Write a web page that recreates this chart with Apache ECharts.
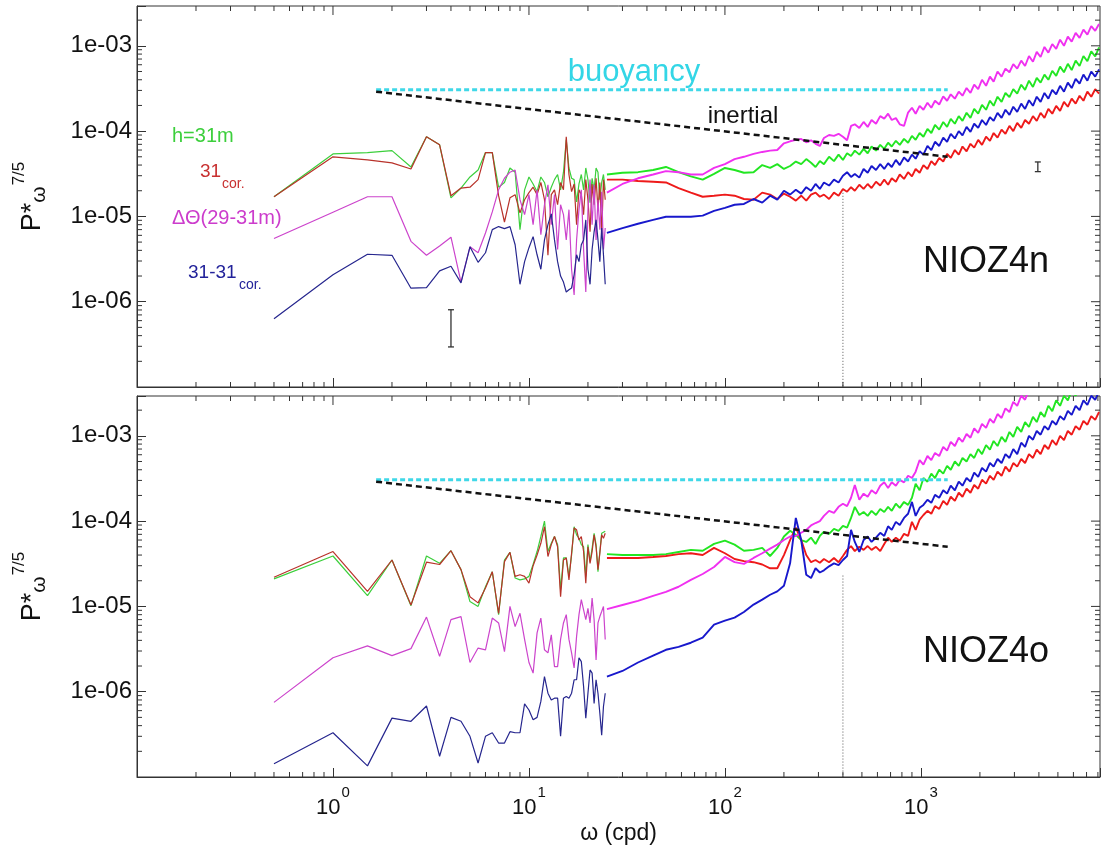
<!DOCTYPE html>
<html><head><meta charset="utf-8">
<script src="https://cdn.jsdelivr.net/npm/echarts@6/dist/echarts.min.js"></script>
<style>html,body{margin:0;padding:0;background:#fff}#c{width:1102px;height:854px}</style>
</head><body><div id="c"></div>
<script>
// ---------- axis ranges & tick values ----------
const X_MIN = 0.1, X_MAX = 8200;
const Y_MIN = 1e-7, Y_MAX = 2.93e-3;
const MAJOR_X = [1, 10, 100, 1000];
const MAJOR_Y = [1e-6, 1e-5, 1e-4, 1e-3];
const MINOR_X = [0.2,0.3,0.4,0.5,0.6,0.7,0.8,0.9, 2,3,4,5,6,7,8,9, 20,30,40,50,60,70,80,90,
  200,300,400,500,600,700,800,900, 2000,3000,4000,5000,6000,7000,8000];
const MINOR_Y = [2e-7,3e-7,4e-7,5e-7,6e-7,7e-7,8e-7,9e-7, 2e-6,3e-6,4e-6,5e-6,6e-6,7e-6,8e-6,9e-6,
  2e-5,3e-5,4e-5,5e-5,6e-5,7e-5,8e-5,9e-5, 2e-4,3e-4,4e-4,5e-4,6e-4,7e-4,8e-4,9e-4, 2e-3];

// ---------- frequencies (cpd) ----------
const LOW_FREQ = [0.5,1,1.5,2,2.5,3,3.5,4,4.5,5,5.5,6,6.5,7,7.5,8,8.5,9,9.5,10,10.5,11,11.5,12,12.5,
  13,13.5,14,14.5,15,15.5,16,16.5,17,17.5,18,18.5,19,19.5,20,20.5,21,21.5,22,22.5,23,23.5,24,24.5];
const HIGH_FREQ = [25,30,36,43,50,58,67,77,88,100, 112,125,140,155,170,185,200,215,230,245,
  260,275,290,305,320,340,360,380,400,420, 440,460,485,510,535,560,590,620,650,680,
  710,745,780,820,860,900,940,985,1030,1080, 1130,1180,1240,1300,1360,1420,1490,1560,1630,1710,
  1790,1870,1960,2050,2150,2250,2350,2460,2580,2700, 2830,2960,3100,3250,3400,3560,3730,3900,4080,4270,
  4470,4680,4900,5130,5370,5620,5880,6160,6450,6750, 7070,7400,7750,8110];

// ---------- NIOZ4n (top panel) ----------
const TOP_H31_LOW = [1.7e-5,5.4e-5,5.6e-5,5.9e-5,3.8e-5,8.6e-5,6.9e-5,1.65e-5,2.15e-5,2.9e-5,
  3.5e-5,5.6e-5,5.6e-5,2.2e-5,2.5e-5,3.7e-5,3.3e-5,7.0e-6,2.05e-5,2.9e-5,
  2.4e-5,1.95e-5,2.9e-5,2.5e-5,1.7e-5,2.2e-5,2.7e-5,3.1e-5,2.05e-5,3.3e-5,
  7.9e-5,3.7e-5,2.8e-5,2.7e-5,1.48e-5,2.4e-5,3.1e-5,2.05e-5,3.7e-5,2.7e-5,
  1.45e-5,2.8e-5,2.05e-5,3.7e-5,3.3e-5,1.57e-5,2.5e-5,3.1e-5,2.05e-5];
const TOP_COR_LOW = [1.7e-5,5.0e-5,4.6e-5,4.25e-5,3.6e-5,8.6e-5,6.9e-5,1.75e-5,2.15e-5,2.2e-5,
  2.7e-5,5.6e-5,5.6e-5,1.75e-5,8.6e-6,1.65e-5,1.8e-5,1.1e-5,1.57e-5,1.9e-5,
  2.2e-5,1.8e-5,2.5e-5,1.57e-5,3.5e-6,1.8e-5,2.05e-5,1.37e-5,2.5e-5,2.05e-5,
  8.6e-5,3.1e-5,1.95e-5,2.4e-5,8.0e-6,2.05e-5,1.8e-5,1.05e-5,2.7e-5,1.57e-5,
  6.6e-6,2.4e-5,1.37e-5,2.8e-5,1.2e-5,2.5e-5,6.1e-6,2.7e-5,1.57e-5];
const TOP_DT_LOW = [5.5e-6,1.12e-5,1.7e-5,1.7e-5,5.1e-6,3.5e-6,4.5e-6,5.7e-6,1.7e-6,4.4e-6,
  3.75e-6,6.4e-6,1.13e-5,2.05e-5,2.8e-5,3.3e-5,3.5e-5,1.57e-5,1.05e-5,1.8e-5,
  8.0e-6,2.05e-5,6.1e-6,1.37e-5,2.35e-5,8.0e-6,1.8e-5,4.1e-6,1.37e-5,1.05e-5,
  5.3e-6,1.2e-5,2.4e-6,1.2e-6,5.3e-6,1.2e-5,2.05e-5,4.1e-6,1.3e-6,1.2e-5,
  2.7e-5,8.0e-6,2.35e-5,5.3e-6,1.57e-5,7.0e-6,1.95e-5,4.1e-6,7.3e-6];
const TOP_DIFF_LOW = [6.3e-7,2.07e-6,3.6e-6,3.5e-6,1.44e-6,1.46e-6,2.3e-6,2.6e-6,1.66e-6,4.4e-6,
  2.9e-6,3.75e-6,7.0e-6,7.6e-6,7.2e-6,7.6e-6,4.65e-6,1.6e-6,2.95e-6,4.3e-6,
  5.8e-6,3.55e-6,2.4e-6,5.3e-6,8.0e-6,1.07e-5,5.3e-6,2.95e-6,2.0e-6,1.7e-6,
  1.3e-6,1.38e-6,1.45e-6,2.07e-6,3.55e-6,2.95e-6,4.65e-6,5.3e-6,9.1e-6,2.4e-6,
  1.6e-6,4.1e-6,6.6e-6,9.1e-6,5.3e-6,2.95e-6,7.3e-6,3.55e-6,1.6e-6];
const TOP_H31_HIGH = [3.1e-5,3.25e-5,3.3e-5,3.5e-5,3.8e-5,3.3e-5,2.95e-5,2.7e-5,3.15e-5,3.7e-5,
  3.5e-5,3.25e-5,3.3e-5,4.0e-5,3.7e-5,4.1e-5,3.6e-5,3.9e-5,4.4e-5,4.1e-5,
  4.7e-5,4.25e-5,3.8e-5,4.45e-5,4.1e-5,5.0e-5,4.45e-5,5.3e-5,4.6e-5,5.5e-5,
  5.1e-5,5.9e-5,5.3e-5,6.2e-5,5.5e-5,6.6e-5,5.9e-5,6.9e-5,6.2e-5,7.3e-5,
  6.6e-5,7.7e-5,6.9e-5,8.1e-5,7.3e-5,8.8e-5,7.9e-5,9.5e-5,8.6e-5,1.06e-4,
  9.5e-5,1.18e-4,1.04e-4,1.28e-4,1.12e-4,1.39e-4,1.22e-4,1.5e-4,1.32e-4,1.64e-4,
  1.43e-4,1.82e-4,1.6e-4,2.03e-4,1.78e-4,2.27e-4,1.98e-4,2.53e-4,2.2e-4,2.8e-4,
  2.5e-4,3.1e-4,2.75e-4,3.5e-4,3.05e-4,3.9e-4,3.3e-4,4.2e-4,3.7e-4,4.6e-4,
  4.0e-4,5.1e-4,4.45e-4,5.7e-4,4.9e-4,6.15e-4,5.2e-4,6.7e-4,5.8e-4,7.6e-4,
  6.6e-4,8.6e-4,7.5e-4,9.6e-4];
const TOP_COR_HIGH = [2.7e-5,2.7e-5,2.6e-5,2.55e-5,2.5e-5,2.15e-5,1.9e-5,1.7e-5,1.75e-5,1.8e-5,
  1.75e-5,1.6e-5,1.57e-5,1.9e-5,1.8e-5,1.6e-5,1.85e-5,1.7e-5,1.53e-5,1.75e-5,
  1.53e-5,1.8e-5,1.9e-5,1.7e-5,1.8e-5,1.6e-5,1.9e-5,1.75e-5,2.1e-5,1.95e-5,
  2.2e-5,2.0e-5,2.35e-5,2.1e-5,2.4e-5,2.15e-5,2.55e-5,2.3e-5,2.7e-5,2.35e-5,
  2.8e-5,2.55e-5,3.1e-5,2.75e-5,3.3e-5,2.95e-5,3.6e-5,3.25e-5,4.0e-5,3.6e-5,
  4.45e-5,4.0e-5,4.85e-5,4.4e-5,5.4e-5,4.85e-5,6.0e-5,5.3e-5,6.6e-5,5.8e-5,
  7.1e-5,6.4e-5,7.9e-5,6.9e-5,8.6e-5,7.7e-5,9.5e-5,8.4e-5,1.04e-4,9.3e-5,
  1.15e-4,1.0e-4,1.25e-4,1.09e-4,1.35e-4,1.22e-4,1.5e-4,1.32e-4,1.64e-4,1.43e-4,
  1.82e-4,1.6e-4,1.98e-4,1.73e-4,2.2e-4,1.93e-4,2.4e-4,2.1e-4,2.6e-4,2.27e-4,
  2.9e-4,2.53e-4,3.1e-4,2.75e-4];
const TOP_DT_HIGH = [1.9e-5,2.4e-5,2.8e-5,3.1e-5,3.4e-5,3.3e-5,3.1e-5,3.1e-5,3.7e-5,4.1e-5,
  4.7e-5,5.0e-5,5.4e-5,5.7e-5,5.9e-5,6.0e-5,7.2e-5,7.6e-5,7.9e-5,8.1e-5,
  7.4e-5,7.8e-5,7.1e-5,6.7e-5,8.3e-5,9.0e-5,8.8e-5,9.3e-5,8.6e-5,7.8e-5,
  1.15e-4,1.2e-4,1.09e-4,1.28e-4,1.12e-4,1.35e-4,1.22e-4,1.5e-4,1.4e-4,1.6e-4,
  1.35e-4,1.42e-4,1.2e-4,1.15e-4,1.65e-4,1.88e-4,1.6e-4,1.98e-4,1.78e-4,2.15e-4,
  1.88e-4,2.27e-4,2.05e-4,2.55e-4,2.27e-4,2.7e-4,2.4e-4,2.9e-4,2.6e-4,3.2e-4,
  2.8e-4,3.5e-4,3.1e-4,4.0e-4,3.4e-4,4.35e-4,3.8e-4,5.0e-4,4.35e-4,5.4e-4,
  4.9e-4,6.1e-4,5.4e-4,6.7e-4,5.8e-4,7.6e-4,6.5e-4,8.5e-4,7.4e-4,9.7e-4,
  8.3e-4,1.05e-3,9.2e-4,1.18e-3,1.0e-3,1.28e-3,1.12e-3,1.42e-3,1.24e-3,1.55e-3,
  1.35e-3,1.7e-3,1.5e-3,1.8e-3];
const TOP_DIFF_HIGH = [6.4e-6,7.3e-6,8.2e-6,9.1e-6,9.9e-6,9.9e-6,9.9e-6,1.02e-5,1.16e-5,1.26e-5,
  1.37e-5,1.4e-5,1.6e-5,1.45e-5,1.75e-5,1.57e-5,2.0e-5,1.8e-5,2.05e-5,1.85e-5,
  2.2e-5,2.0e-5,2.4e-5,2.1e-5,2.5e-5,2.3e-5,2.7e-5,2.5e-5,3.0e-5,3.3e-5,
  2.9e-5,3.15e-5,2.85e-5,3.6e-5,3.25e-5,3.9e-5,3.5e-5,4.1e-5,3.6e-5,4.2e-5,
  3.8e-5,4.6e-5,4.0e-5,4.9e-5,4.4e-5,5.3e-5,4.75e-5,5.8e-5,5.3e-5,6.7e-5,
  6.0e-5,7.5e-5,6.7e-5,8.4e-5,7.5e-5,9.3e-5,8.2e-5,1.0e-4,8.9e-5,1.12e-4,
  9.8e-5,1.22e-4,1.09e-4,1.35e-4,1.18e-4,1.46e-4,1.32e-4,1.64e-4,1.43e-4,1.78e-4,
  1.55e-4,1.93e-4,1.68e-4,2.1e-4,1.82e-4,2.3e-4,1.98e-4,2.53e-4,2.2e-4,2.8e-4,
  2.4e-4,3.05e-4,2.7e-4,3.4e-4,2.9e-4,3.7e-4,3.2e-4,4.1e-4,3.6e-4,4.6e-4,
  3.9e-4,5.0e-4,4.35e-4,5.3e-4];

// ---------- NIOZ4o (bottom panel) ----------
const BOT_H31_LOW = [2.1e-5,3.9e-5,1.34e-5,3.5e-5,1.02e-5,3.9e-5,3.2e-5,4.5e-5,2.7e-5,1.14e-5,
  1.0e-5,1.7e-5,2.55e-5,8.0e-6,3.5e-5,4.3e-5,2.15e-5,2.05e-5,2.1e-5,2.25e-5,
  3.1e-5,4.4e-5,6.6e-5,1.0e-4,4.4e-5,5.5e-5,6.6e-5,5.3e-5,1.57e-5,3.7e-5,
  3.7e-5,2.25e-5,4.0e-5,8.6e-5,6.9e-5,6.3e-5,5.3e-5,5.0e-5,2.25e-5,5.3e-5,
  3.35e-5,4.8e-5,7.2e-5,5.3e-5,2.55e-5,4.4e-5,7.2e-5,6.9e-5,7.6e-5];
const BOT_COR_LOW = [2.2e-5,4.4e-5,1.5e-5,3.5e-5,1.04e-5,3.3e-5,3.1e-5,4.5e-5,2.7e-5,1.3e-5,
  1.1e-5,1.64e-5,2.55e-5,8.3e-6,3.35e-5,4.3e-5,2.25e-5,2.35e-5,2.25e-5,1.87e-5,
  3.0e-5,4.0e-5,5.5e-5,8.6e-5,3.85e-5,5.3e-5,6.6e-5,5.0e-5,1.3e-5,3.5e-5,
  3.7e-5,2.05e-5,4.2e-5,8.3e-5,7.9e-5,6.0e-5,6.6e-5,4.4e-5,1.87e-5,5.0e-5,
  3.2e-5,4.4e-5,6.9e-5,5.0e-5,2.7e-5,4.2e-5,6.9e-5,6.3e-5,7.2e-5];
const BOT_DT_LOW = [7.5e-7,2.5e-6,3.45e-6,2.65e-6,3.2e-6,7.5e-6,2.6e-6,7.0e-6,7.6e-6,2.2e-6,
  3.25e-6,3.1e-6,7.3e-6,6.4e-6,2.95e-6,1.0e-5,5.8e-6,8.3e-6,4.1e-6,2.2e-6,
  1.65e-6,4.9e-6,7.3e-6,3.1e-6,2.85e-6,4.65e-6,1.97e-6,1.97e-6,4.1e-6,6.4e-6,
  8.0e-6,4.1e-6,2.85e-6,1.9e-6,4.45e-6,8.0e-6,1.2e-5,9.1e-6,7.0e-6,9.5e-6,
  6.4e-6,1.25e-5,7.0e-6,2.35e-6,6.4e-6,7.6e-6,8.7e-6,1.0e-5,4.1e-6];
const BOT_DIFF_LOW = [1.43e-7,3.3e-7,1.35e-7,4.9e-7,4.5e-7,6.8e-7,1.75e-7,5.0e-7,4.5e-7,3.0e-7,
  1.46e-7,3.0e-7,3.3e-7,2.5e-7,2.5e-7,3.4e-7,3.3e-7,3.3e-7,7.2e-7,6.1e-7,
  4.7e-7,5.0e-7,7.7e-7,1.5e-6,9.6e-7,8.0e-7,8.4e-7,8.4e-7,3.0e-7,8.4e-7,
  8.8e-7,8.4e-7,9.6e-7,1.38e-6,1.38e-6,2.5e-6,2.25e-6,1.15e-6,4.9e-7,9.6e-7,
  1.8e-6,1.65e-6,7.3e-7,1.38e-6,9.6e-7,5.6e-7,3.1e-7,6.7e-7,9.6e-7];
const BOT_H31_HIGH = [4.1e-5,4.0e-5,4.0e-5,4.0e-5,4.1e-5,4.35e-5,4.6e-5,4.5e-5,5.4e-5,5.9e-5,
  5.3e-5,4.5e-5,4.6e-5,4.85e-5,3.9e-5,4.85e-5,6.6e-5,7.7e-5,6.9e-5,6.0e-5,
  5.7e-5,6.4e-5,5.4e-5,6.7e-5,7.5e-5,7.1e-5,8.1e-5,7.7e-5,8.8e-5,8.4e-5,
  1.09e-4,1.47e-4,1.18e-4,1.28e-4,1.15e-4,1.32e-4,1.18e-4,1.39e-4,1.28e-4,1.47e-4,
  1.32e-4,1.6e-4,1.43e-4,1.68e-4,1.55e-4,1.88e-4,2.75e-4,2.3e-4,3.2e-4,2.9e-4,
  3.6e-4,3.2e-4,4.0e-4,3.6e-4,4.45e-4,4.0e-4,5.0e-4,4.45e-4,5.5e-4,5.0e-4,
  6.1e-4,5.5e-4,7.0e-4,6.1e-4,7.8e-4,6.9e-4,8.7e-4,7.6e-4,9.7e-4,8.5e-4,
  1.11e-3,9.7e-4,1.27e-3,1.11e-3,1.45e-3,1.27e-3,1.67e-3,1.45e-3,1.9e-3,1.67e-3,
  2.25e-3,1.95e-3,2.6e-3,2.25e-3,2.95e-3,2.6e-3,3.4e-3,2.95e-3,3.85e-3,3.4e-3,
  4.4e-3,3.85e-3,5.0e-3,4.4e-3];
const BOT_COR_HIGH = [3.7e-5,3.7e-5,3.7e-5,3.8e-5,3.9e-5,4.1e-5,4.2e-5,4.0e-5,4.85e-5,4.2e-5,
  3.6e-5,3.4e-5,3.3e-5,3.1e-5,2.8e-5,2.8e-5,4.0e-5,6.0e-5,8.4e-5,6.0e-5,
  4.0e-5,3.3e-5,3.5e-5,3.25e-5,3.6e-5,3.3e-5,3.7e-5,3.3e-5,3.9e-5,4.6e-5,
  5.1e-5,4.45e-5,5.0e-5,4.6e-5,5.1e-5,4.6e-5,5.0e-5,4.45e-5,5.4e-5,6.4e-5,
  5.7e-5,6.4e-5,5.9e-5,7.1e-5,6.7e-5,9.8e-5,7.9e-5,1.04e-4,1.18e-4,1.32e-4,
  1.22e-4,1.5e-4,1.39e-4,1.73e-4,1.55e-4,1.93e-4,1.73e-4,2.15e-4,1.93e-4,2.4e-4,
  2.15e-4,2.65e-4,2.4e-4,3.05e-4,2.75e-4,3.4e-4,3.05e-4,3.8e-4,3.4e-4,4.35e-4,
  3.8e-4,4.8e-4,4.35e-4,5.35e-4,4.8e-4,6.1e-4,5.5e-4,6.9e-4,6.1e-4,7.8e-4,
  7.0e-4,8.9e-4,7.8e-4,1.0e-3,8.9e-4,1.14e-3,1.03e-3,1.3e-3,1.18e-3,1.5e-3,
  1.35e-3,1.7e-3,1.54e-3,1.9e-3];
const BOT_DT_HIGH = [9.3e-6,1.04e-5,1.16e-5,1.33e-5,1.48e-5,1.7e-5,2.05e-5,2.4e-5,2.9e-5,3.8e-5,
  3.3e-5,3.15e-5,3.7e-5,4.2e-5,4.75e-5,5.3e-5,6.0e-5,6.6e-5,6.7e-5,7.3e-5,
  7.9e-5,8.9e-5,9.5e-5,1.0e-4,1.15e-4,1.32e-4,1.25e-4,1.47e-4,1.6e-4,1.5e-4,
  1.88e-4,2.65e-4,1.78e-4,2.1e-4,1.93e-4,2.3e-4,2.1e-4,2.6e-4,2.85e-4,2.45e-4,
  2.85e-4,2.6e-4,3.05e-4,2.85e-4,3.4e-4,3.2e-4,3.8e-4,5.2e-4,4.6e-4,5.8e-4,
  5.2e-4,6.3e-4,5.8e-4,7.4e-4,6.7e-4,8.5e-4,7.6e-4,9.5e-4,8.5e-4,1.05e-3,
  9.5e-4,1.22e-3,1.08e-3,1.38e-3,1.24e-3,1.58e-3,1.42e-3,1.8e-3,1.62e-3,2.1e-3,
  1.9e-3,2.5e-3,2.25e-3,2.95e-3,2.65e-3,3.45e-3,3.1e-3,4.1e-3,3.65e-3,4.8e-3,
  4.3e-3,5.6e-3,5.0e-3,6.6e-3,5.9e-3,7.7e-3,6.9e-3,9.1e-3,8.1e-3,1.07e-2,
  9.6e-3,1.26e-2,1.13e-2,1.5e-2];
const BOT_DIFF_HIGH = [1.5e-6,1.75e-6,2.2e-6,2.65e-6,3.1e-6,3.35e-6,3.75e-6,4.3e-6,6.1e-6,6.8e-6,
  7.4e-6,8.6e-6,1.05e-5,1.2e-5,1.37e-5,1.5e-5,1.75e-5,3.2e-5,1.09e-4,6.0e-5,
  2.35e-5,2.15e-5,2.8e-5,2.5e-5,2.65e-5,2.95e-5,3.2e-5,3.05e-5,3.5e-5,3.9e-5,
  7.9e-5,5.7e-5,4.35e-5,6.0e-5,6.6e-5,5.7e-5,6.4e-5,7.3e-5,6.7e-5,8.7e-5,
  7.9e-5,9.8e-5,9.0e-5,1.09e-4,1.22e-4,1.68e-4,1.15e-4,1.43e-4,1.55e-4,1.78e-4,
  1.64e-4,2.03e-4,1.88e-4,2.3e-4,2.1e-4,2.6e-4,2.3e-4,2.9e-4,2.6e-4,3.2e-4,
  2.9e-4,3.7e-4,3.3e-4,4.2e-4,3.8e-4,4.8e-4,4.35e-4,5.35e-4,4.8e-4,6.1e-4,
  5.5e-4,7.0e-4,6.1e-4,8.3e-4,7.4e-4,1.0e-3,9.0e-4,1.14e-3,1.03e-3,1.3e-3,
  1.18e-3,1.5e-3,1.35e-3,1.7e-3,1.54e-3,1.96e-3,1.76e-3,2.25e-3,2.0e-3,2.6e-3,
  2.3e-3,2.95e-3,2.65e-3,3.3e-3];

// ---------- reference lines & error bars ----------
const BUOYANCY_X = [1.66, 1370], BUOYANCY_Y = [3.05e-4, 3.05e-4];
const INERTIAL_X = [1.66, 1370], INERTIAL_Y = [2.9e-4, 5.0e-5];
const CUTOFF_X = [400, 400];
const CUTOFF_TOP_Y = [2.05e-5, 1e-7];
const CUTOFF_BOT_Y = [2.3e-5, 1e-7];
const ERRBAR_TOP = [[4, 2.95e-7, 8.05e-7], [3950, 3.35e-5, 4.35e-5]];

// ---------- styling ----------
const FONT = '"Liberation Sans", Arial, sans-serif';
const COL = {
  h31: ['#3ccf3c', '#22e622'],
  cor: ['#b8322a', '#ee1a1a'],
  dt:  ['#cc44cc', '#f030f0'],
  diff:['#26268e', '#1818cc']
};
const AX = '#333';

function pairs(xs, ys) { return xs.map((x, i) => [x, ys[i]]); }

function line(gi, xs, ys, color, width, type, z) {
  return {
    type: 'line', xAxisIndex: gi, yAxisIndex: gi, data: pairs(xs, ys),
    showSymbol: false, symbol: 'none', silent: true, clip: true, z: z || 2,
    lineStyle: { color: color, width: width, type: type || 'solid' }
  };
}

function tickSeries(gi) {
  const data = [];
  MINOR_X.forEach(v => data.push([v, Y_MIN, 0]));
  MINOR_Y.forEach(v => data.push([X_MIN, v, 1]));
  MAJOR_X.forEach(v => data.push([v, Y_MIN, 2]));
  MAJOR_Y.forEach(v => data.push([X_MIN, v, 3]));
  return {
    type: 'custom', xAxisIndex: gi, yAxisIndex: gi, silent: true, z: 10,
    encode: { x: 0, y: 1 }, data: data,
    renderItem: function (params, api) {
      const cs = params.coordSys;
      const kind = api.value(2);
      const p = api.coord([api.value(0), api.value(1)]);
      const segs = [];
      if (kind === 0 || kind === 2) {
        const len = kind === 0 ? 5 : 9;
        if (kind === 0) segs.push([p[0], cs.y + cs.height, p[0], cs.y + cs.height - len]);
        segs.push([p[0], cs.y, p[0], cs.y + len]);
      } else {
        const len = kind === 1 ? 5 : 9;
        if (kind === 1) segs.push([cs.x, p[1], cs.x + len, p[1]]);
        segs.push([cs.x + cs.width, p[1], cs.x + cs.width - len, p[1]]);
      }
      return { type: 'group', children: segs.map(s => ({
        type: 'line', shape: { x1: s[0], y1: s[1], x2: s[2], y2: s[3] },
        style: { stroke: AX, lineWidth: 1 } })) };
    }
  };
}

function errSeries(gi, data) {
  return {
    type: 'custom', xAxisIndex: gi, yAxisIndex: gi, silent: true, z: 6,
    encode: { x: 0, y: [1, 2] }, data: data,
    renderItem: function (params, api) {
      const lo = api.coord([api.value(0), api.value(1)]);
      const hi = api.coord([api.value(0), api.value(2)]);
      const st = { stroke: '#333', lineWidth: 1.3 };
      return { type: 'group', children: [
        { type: 'line', shape: { x1: lo[0], y1: lo[1], x2: hi[0], y2: hi[1] }, style: st },
        { type: 'line', shape: { x1: lo[0] - 3, y1: lo[1], x2: lo[0] + 3, y2: lo[1] }, style: st },
        { type: 'line', shape: { x1: hi[0] - 3, y1: hi[1], x2: hi[0] + 3, y2: hi[1] }, style: st }
      ]};
    }
  };
}

function isPow(v) { const l = Math.log10(v); return Math.abs(l - Math.round(l)) < 1e-6; }

function xAxis(gi) {
  return {
    type: 'log', logBase: 10, gridIndex: gi, min: X_MIN, max: X_MAX,
    axisLine: { show: true, lineStyle: { color: AX, width: 1 } },
    axisTick: { show: true, inside: true, length: 9, lineStyle: { color: AX } },
    minorTick: { show: false }, splitLine: { show: false },
    axisLabel: {
      show: gi === 1, margin: 8, color: '#111', fontFamily: FONT,
      formatter: function (v) {
        if (!isPow(v) || Math.round(Math.log10(v)) < 0) return '';
        return '{b|10}{s|' + Math.round(Math.log10(v)) + '}';
      },
      rich: {
        b: { fontSize: 22, color: '#111', fontFamily: FONT },
        s: { fontSize: 15, color: '#111', fontFamily: FONT, padding: [0, 0, 30, 1] }
      }
    },
    name: gi === 1 ? 'ω (cpd)' : '', nameLocation: 'middle', nameGap: 45,
    nameTextStyle: { fontSize: 23, color: '#111', fontFamily: FONT }
  };
}

function yAxis(gi) {
  return {
    type: 'log', logBase: 10, gridIndex: gi, min: Y_MIN, max: Y_MAX,
    axisLine: { show: true, lineStyle: { color: AX, width: 1 } },
    axisTick: { show: true, inside: true, length: 9, lineStyle: { color: AX } },
    minorTick: { show: false }, splitLine: { show: false },
    axisLabel: {
      margin: 5, color: '#111', fontSize: 24, fontFamily: FONT,
      formatter: function (v) {
        if (!isPow(v)) return '';
        const e = Math.round(Math.log10(v));
        if (e <= -7 || e >= 0) return '';
        return '1e-' + String(-e).padStart(2, '0');
      }
    },
    name: '{p|P*}{w|ω}{s|7/5}', nameLocation: 'middle', nameRotate: 90, nameGap: 83,
    nameTextStyle: {
      color: '#111', fontFamily: FONT,
      rich: {
        p: { fontSize: 27, color: '#111', fontFamily: FONT },
        w: { fontSize: 21, color: '#111', fontFamily: FONT, padding: [13, 0, 0, 0] },
        s: { fontSize: 17, color: '#111', fontFamily: FONT, padding: [0, 0, 26, 1] }
      }
    }
  };
}

function panelSeries(gi, d, cutY) {
  const s = [];
  s.push(line(gi, BUOYANCY_X, BUOYANCY_Y, '#3fd8e8', 3, [5, 3], 3));
  s.push(line(gi, INERTIAL_X, INERTIAL_Y, '#111', 2.5, [6, 4], 4));
  s.push(line(gi, CUTOFF_X, cutY, '#555', 1, [1, 2], 1));
  s.push(line(gi, LOW_FREQ, d.h31L, COL.h31[0], 1.2));
  s.push(line(gi, LOW_FREQ, d.corL, COL.cor[0], 1.2));
  s.push(line(gi, LOW_FREQ, d.dtL, COL.dt[0], 1.2));
  s.push(line(gi, LOW_FREQ, d.diffL, COL.diff[0], 1.2));
  s.push(line(gi, HIGH_FREQ, d.h31H, COL.h31[1], 1.9));
  s.push(line(gi, HIGH_FREQ, d.corH, COL.cor[1], 1.9));
  s.push(line(gi, HIGH_FREQ, d.dtH, COL.dt[1], 1.9));
  s.push(line(gi, HIGH_FREQ, d.diffH, COL.diff[1], 1.9));
  s.push(tickSeries(gi));
  return s;
}

function txt(x, y, text, size, color, align) {
  const a = align || 'left';
  return { type: 'text', x: x, y: y, silent: true, z: 20,
    style: { text: text, fill: color, font: size + 'px ' + FONT,
      align: a, verticalAlign: 'middle', textAlign: a, textVerticalAlign: 'middle' } };
}

const series = []
  .concat(panelSeries(0, { h31L: TOP_H31_LOW, corL: TOP_COR_LOW, dtL: TOP_DT_LOW, diffL: TOP_DIFF_LOW,
    h31H: TOP_H31_HIGH, corH: TOP_COR_HIGH, dtH: TOP_DT_HIGH, diffH: TOP_DIFF_HIGH }, CUTOFF_TOP_Y))
  .concat(panelSeries(1, { h31L: BOT_H31_LOW, corL: BOT_COR_LOW, dtL: BOT_DT_LOW, diffL: BOT_DIFF_LOW,
    h31H: BOT_H31_HIGH, corH: BOT_COR_HIGH, dtH: BOT_DT_HIGH, diffH: BOT_DIFF_HIGH }, CUTOFF_BOT_Y));
series.push(errSeries(0, ERRBAR_TOP));

const option = {
  animation: false,
  backgroundColor: '#fff',
  grid: [
    { left: 137, top: 6, right: 2, height: 381, show: true, borderColor: AX, borderWidth: 1,
      backgroundColor: 'transparent', containLabel: false, outerBoundsMode: 'none' },
    { left: 137, top: 396, right: 2, height: 381, show: true, borderColor: AX, borderWidth: 1,
      backgroundColor: 'transparent', containLabel: false, outerBoundsMode: 'none' }
  ],
  xAxis: [xAxis(0), xAxis(1)],
  yAxis: [yAxis(0), yAxis(1)],
  series: series,
  graphic: [
    txt(634, 72, 'buoyancy', 31, '#33d6e6', 'center'),
    txt(743, 116, 'inertial', 24, '#111', 'center'),
    txt(172, 136, 'h=31m', 20, '#3ccf3c'),
    txt(200, 172, '31', 19, '#c83030'),
    txt(222, 184, 'cor.', 14, '#c83030'),
    txt(172, 218, 'ΔΘ(29-31m)', 20, '#cc3ccc'),
    txt(188, 273, '31-31', 19, '#22229a'),
    txt(239, 285, 'cor.', 14, '#22229a'),
    txt(986, 262, 'NIOZ4n', 36, '#111', 'center'),
    txt(986, 652, 'NIOZ4o', 36, '#111', 'center')
  ]
};

const chart = echarts.init(document.getElementById('c'), null, { renderer: 'canvas' });
chart.setOption(option);
</script></body></html>
